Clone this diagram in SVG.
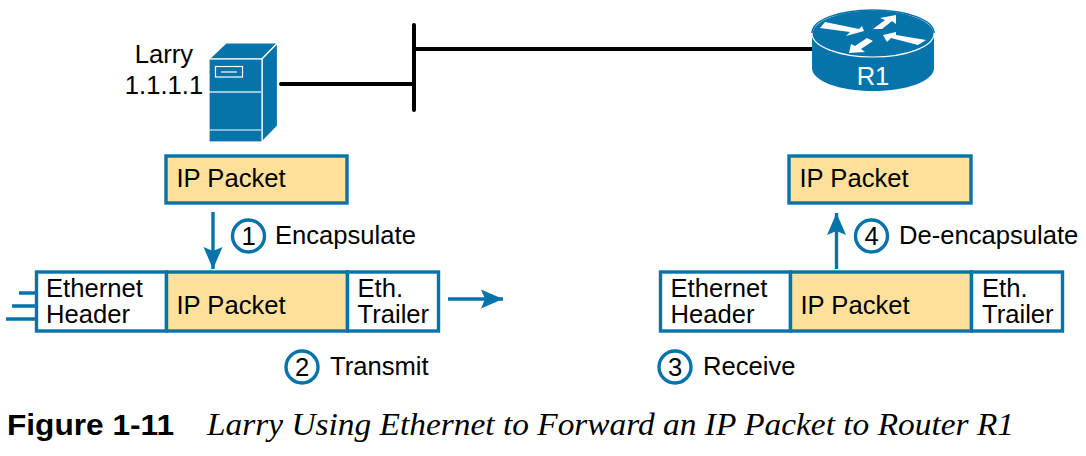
<svg xmlns="http://www.w3.org/2000/svg" width="1086" height="456" viewBox="0 0 1086 456">
<style>
text{font-family:"Liberation Sans",Arial,sans-serif;font-size:25.6px;fill:#000}
.box{stroke:#0673ab;stroke-width:3.4}
.w{fill:#fff}.y{fill:#fde09a}
.c{fill:#fff;stroke:#0673ab;stroke-width:3.4}
.num{text-anchor:middle}
.blue{stroke:#0673ab;stroke-width:3.4;fill:none}
.blk{stroke:#000;stroke-width:4;fill:none;stroke-linecap:round}
.dev{fill:#0673ab;stroke:#fff;stroke-width:1.2}
.lin{stroke:#fff;fill:none}
</style>
<defs>
<marker id="a" markerUnits="userSpaceOnUse" markerWidth="24" markerHeight="22" refX="22" refY="11" orient="auto"><path d="M0,1.500 L22,11 L0,20.500 L4,11Z" fill="#0673ab"/></marker>
</defs>
<g id="connectors">
<path class="blk" d="M414,25V110M414,49H812M281,84H414"/>
<path class="blue" d="M213,212V269" marker-end="url(#a)"/>
<path class="blue" d="M836.500,269V213" marker-end="url(#a)"/>
<path class="blue" d="M448,299H503" marker-end="url(#a)"/>
<path class="blue" d="M19,293H36M12,306H36M6,319H36"/>
</g>
<g id="larry">
<text x="164" y="63" text-anchor="middle">Larry</text>
<text x="164" y="94" text-anchor="middle">1.1.1.1</text>
<path d="M209,59L226,43H277.500L262,59Z" class="dev"/>
<path d="M262,59L277.500,43V126L262,142Z" class="dev"/>
<rect x="209" y="59" width="53" height="83" class="dev"/>
<path class="lin" d="M209,92H261" stroke-width="1.500" opacity=".8"/>
<path class="lin" d="M209,130H261" stroke-width="1.200"/>
<rect x="215.500" y="66.500" width="27" height="10.500" class="lin" stroke-width="1.200"/>
<path class="lin" d="M221,72H237" stroke-width="1.200"/>
</g>
<g id="r1">
<path d="M812,33V68C812,81 839,91 873,91S934,81 934,68V33Z" fill="#0673ab"/>
<ellipse cx="873" cy="33.500" rx="61" ry="23.500" fill="#0673ab" stroke="#fff" stroke-width="1.200"/>
<path d="M812,33C812,20 839,10 873,10S934,20 934,33" fill="none" stroke="#0673ab" stroke-width="1.500"/>
<g fill="#fff">
<path d="M820,28L825,22L859,29L862,26L864,31L846,36L850,32Z"/>
<path d="M873,29L885,20L880,18L896,15L896,24L892,21L882,29Z"/>
<path d="M883,35L896,32L896,35L926,40L918,45L891,38L887,42Z"/>
<path d="M849,53L851,44L855,46L867,38L873,41L861,49L865,52Z"/>
</g>
<text x="873" y="85" text-anchor="middle" style="fill:#fff">R1</text>
</g>
<g id="ip-packet-left">
<rect x="166" y="156" width="181" height="47" class="box y"/>
<text x="176.500" y="187">IP Packet</text>
</g>
<g id="ip-packet-right">
<rect x="789" y="156" width="182" height="47" class="box y"/>
<text x="799.500" y="187">IP Packet</text>
</g>
<g id="frame-left">
<rect x="36.500" y="272" width="130" height="59" class="box w"/>
<rect x="166.500" y="272" width="181" height="59" class="box y"/>
<rect x="347.500" y="272" width="91" height="59" class="box w"/>
<text x="46" y="297">Ethernet</text>
<text x="46" y="323">Header</text>
<text x="176.500" y="314">IP Packet</text>
<text x="357.500" y="297">Eth.</text>
<text x="357.500" y="323">Trailer</text>
</g>
<g id="frame-right">
<rect x="660.500" y="272" width="130" height="59" class="box w"/>
<rect x="790.500" y="272" width="181" height="59" class="box y"/>
<rect x="971.500" y="272" width="91" height="59" class="box w"/>
<text x="670.500" y="297">Ethernet</text>
<text x="670.500" y="323">Header</text>
<text x="800.500" y="314">IP Packet</text>
<text x="982" y="297">Eth.</text>
<text x="982" y="323">Trailer</text>
</g>
<g id="step1"><circle class="c" cx="248.500" cy="236" r="16"/><text class="num" x="248.500" y="245">1</text><text x="275" y="244">Encapsulate</text></g>
<g id="step2"><circle class="c" cx="302" cy="367" r="16"/><text class="num" x="302" y="376">2</text><text x="330" y="375">Transmit</text></g>
<g id="step3"><circle class="c" cx="675" cy="367" r="16"/><text class="num" x="675" y="376">3</text><text x="703" y="375">Receive</text></g>
<g id="step4"><circle class="c" cx="871.500" cy="236" r="16"/><text class="num" x="871.500" y="245">4</text><text x="899" y="244">De-encapsulate</text></g>
<g id="caption">
<text x="7" y="435" style="font-weight:bold;font-size:29px" textLength="167" lengthAdjust="spacingAndGlyphs">Figure 1-11</text>
<text x="207" y="435" style="font-family:'Liberation Serif',serif;font-style:italic;font-size:31px" textLength="807" lengthAdjust="spacingAndGlyphs">Larry Using Ethernet to Forward an IP Packet to Router R1</text>
</g>
</svg>
